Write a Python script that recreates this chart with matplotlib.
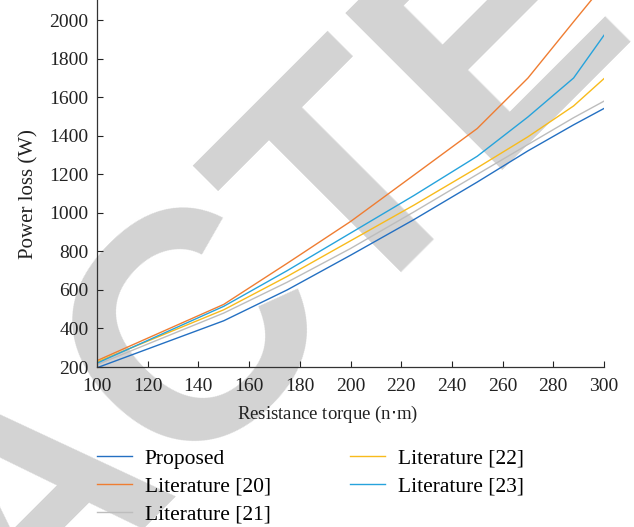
import numpy as np
import matplotlib.pyplot as plt

# Resistance torque (n·m)
torque = [100, 150, 175, 200, 225, 250, 270, 288, 300]

# Power loss (W) for each method
proposed = [196, 440, 600, 780, 965, 1160, 1322, 1457, 1542]
lit20 = [233, 525, 738, 955, 1196, 1438, 1700, 1992, 2185]
lit21 = [212, 480, 640, 815, 1005, 1200, 1355, 1494, 1580]
lit22 = [226, 497, 670, 855, 1040, 1234, 1395, 1555, 1697]
lit23 = [220, 515, 700, 895, 1090, 1294, 1498, 1700, 1922]

labels = ['Proposed', 'Literature [20]', 'Literature [21]',
          'Literature [22]', 'Literature [23]']
colors = ['#2470c2', '#ef7d32', '#bdbdbd', '#f8bb1c', '#26a3dc']

plt.rcParams['font.family'] = ['Liberation Serif', 'DejaVu Serif']

fig = plt.figure(figsize=(6.34, 5.27), dpi=100)
ax = fig.add_axes([97 / 634, 1 - 367 / 527, (604 - 97) / 634, 367 / 527])
ax.set_facecolor('none')

# watermark behind the chart
fig.text(94 / 634, 1 - 557 / 527, 'RETRACTED', rotation=45, rotation_mode='anchor',
         ha='center', va='baseline', fontsize=233, fontweight='bold',
         color='#d3d3d3', family='Liberation Sans', zorder=-5)

series = [proposed, lit20, lit21, lit22, lit23]
for vals, lab, col in zip(series, labels, colors):
    ax.plot(torque, vals, color=col, lw=1.0, label=lab)

ax.set_xlim(100, 300)
ax.set_ylim(200, 2105)
ax.set_xticks(np.arange(100, 301, 20))
ax.set_yticks(np.arange(200, 2001, 200))
ax.tick_params(direction='in', length=4.5, width=0.8, labelsize=14, colors='#222222')
ax.tick_params(axis='x', pad=8)
ax.tick_params(axis='y', pad=6)
for s in ['top', 'right']:
    ax.spines[s].set_visible(False)
for s in ['left', 'bottom']:
    ax.spines[s].set_color('#333333')
    ax.spines[s].set_linewidth(0.9)

ax.set_xlabel('Resistance torque (n$\\cdot$m)', fontsize=13.5, labelpad=6, color='#222222')
ax.xaxis.label.set_x((327 - 97) / 507)
ax.set_ylabel('Power loss (W)', fontsize=15, labelpad=8, color='#222222')
ax.yaxis.label.set_y(0.471)

fig.legend(loc='upper left', bbox_to_anchor=(88 / 634, 1 - 440 / 527), ncol=2,
           frameon=False, fontsize=15.5, handlelength=1.63, handletextpad=0.6,
           labelspacing=0.37, columnspacing=3.7, borderaxespad=0)

fig.savefig('out.png', dpi=100)
